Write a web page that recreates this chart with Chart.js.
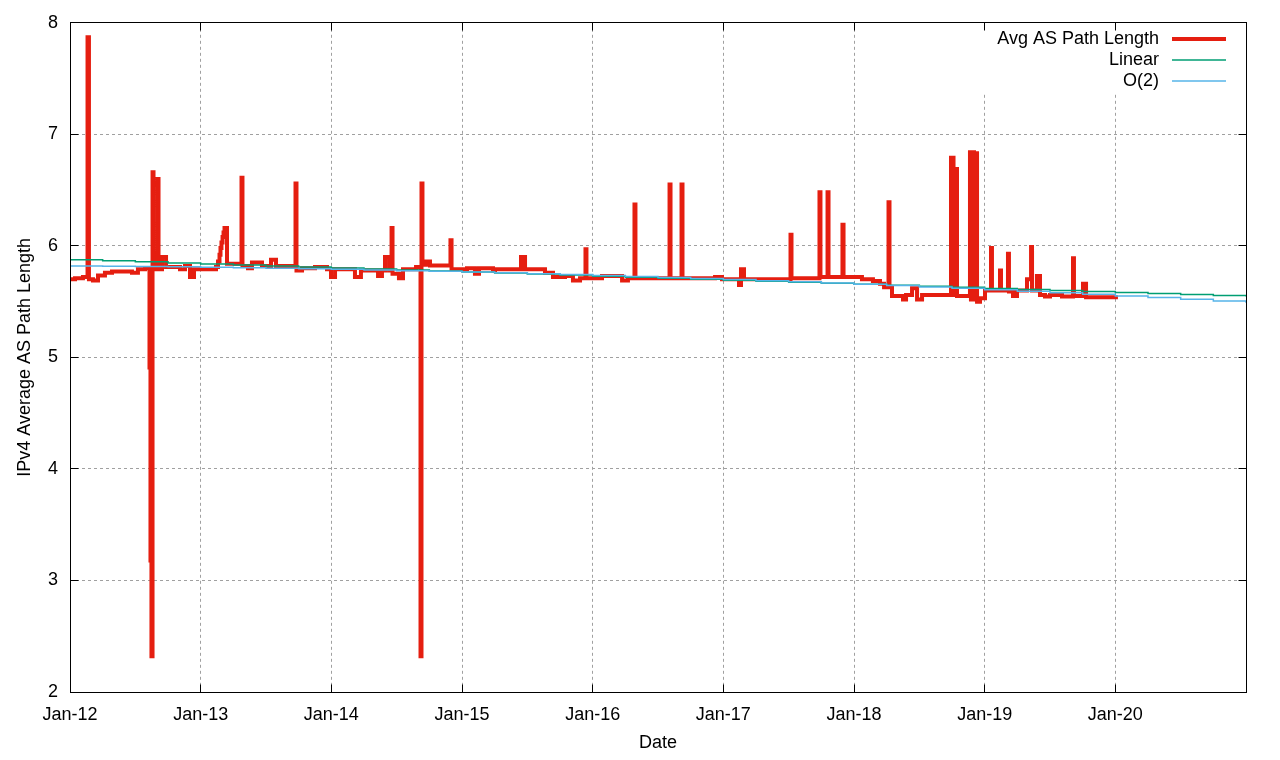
<!DOCTYPE html>
<html>
<head>
<meta charset="utf-8">
<title>IPv4 Average AS Path Length</title>
<script src="https://cdn.jsdelivr.net/npm/chart.js@4/dist/chart.umd.min.js"></script>
<style>
  html, body { margin: 0; padding: 0; background: #fff; }
  canvas { display: block; }
</style>
</head>
<body>
<canvas id="chart" width="1280" height="760"></canvas>
<script>
// x values are months since Jan 2012
const months = [
    0, 0.46, 1.19, 1.61, 1.74, 2.11, 2.57, 3.21, 3.86, 5.69,
    6.24, 6.89, 7.30, 7.39, 7.48, 7.58, 7.67, 8.04, 8.13, 8.45,
    8.82, 10.10, 10.56, 11.02, 11.39, 13.41, 13.59, 13.73, 13.82, 13.91,
    14.01, 14.10, 14.19, 14.42, 15.75, 15.84, 16.35, 16.71, 17.63, 18.46,
    18.92, 20.20, 20.71, 20.80, 21.31, 22.50, 23.60, 23.97, 24.34, 26.17,
    26.72, 28.29, 28.65, 28.93, 29.30, 29.53, 29.62, 30.21, 30.58, 31.78,
    32.19, 32.28, 32.37, 32.69, 33.06, 34.94, 35.04, 36.46, 37.19, 37.56,
    38.85, 39.03, 41.42, 41.79, 43.62, 44.36, 45.46, 46.19, 46.84, 47.34,
    47.43, 48.86, 50.70, 51.24, 51.84, 51.93, 55.06, 55.15, 56.16, 56.25,
    59.24, 59.88, 61.44, 61.62, 61.90, 66.17, 66.26, 68.83, 68.92, 69.57,
    69.66, 70.94, 71.04, 72.73, 73.74, 74.39, 74.76, 75.17, 75.26, 75.49,
    76.50, 76.78, 77.33, 77.79, 78.25,
    80.91, 81.00, 81.05, 81.14, 81.18, 81.28, 81.32, 81.46,
    82.65, 82.74, 82.79, 82.88, 82.93, 83.02, 83.06, 83.30,
    83.57, 84.03, 84.58, 84.67, 85.41, 85.50, 86.14, 86.23, 86.60,
    86.97, 87.89, 88.26, 88.35, 88.80, 89.08, 89.54, 90.00, 91.10, 92.11,
    92.20, 93.03, 93.31, 96.24
];
const avgLen = [
    5.70, 5.71, 5.72, 7.87, 5.70, 5.69, 5.735, 5.76, 5.77, 5.76,
    5.79, 5.80, 4.91, 3.18, 2.32, 6.66, 5.79, 6.60, 5.79, 5.90,
    5.81, 5.79, 5.82, 5.72, 5.79, 5.81, 5.86, 5.92, 5.98, 6.03,
    6.08, 6.12, 6.16, 5.84, 6.61, 5.82, 5.80, 5.85, 5.82, 5.875,
    5.82, 5.82, 6.56, 5.78, 5.80, 5.81, 5.79, 5.72, 5.79, 5.72,
    5.78, 5.73, 5.78, 5.90, 5.78, 6.16, 5.75, 5.71, 5.79, 5.81,
    2.32, 6.56, 5.83, 5.86, 5.825, 6.05, 5.79, 5.80, 5.75, 5.80,
    5.78, 5.79, 5.90, 5.79, 5.76, 5.72, 5.73, 5.69, 5.71, 5.97,
    5.71, 5.73, 5.69, 5.71, 6.37, 5.71, 6.55, 5.71, 6.55, 5.71,
    5.72, 5.70, 5.65, 5.79, 5.70, 6.10, 5.71, 6.48, 5.72, 6.48,
    5.72, 6.19, 5.72, 5.70, 5.685, 5.66, 5.63, 6.39, 5.63, 5.55,
    5.52, 5.56, 5.62, 5.52, 5.56,
    6.79, 5.56, 6.79, 5.56, 6.69, 5.56, 6.69, 5.55,
    6.84, 5.52, 6.84, 5.52, 6.84, 5.52, 6.83, 5.50,
    5.53, 5.60, 5.98, 5.60, 5.78, 5.60, 5.93, 5.59, 5.55,
    5.60, 5.70, 5.99, 5.60, 5.73, 5.56, 5.545, 5.56, 5.545, 5.89,
    5.55, 5.66, 5.54, 5.54
];

const fitMonths = [
    0, 3, 6, 9, 12, 15, 18, 21, 24, 27, 30, 33, 36,
    39, 42, 45, 48, 51, 54, 57, 60, 63, 66, 69, 72,
    75, 78, 81, 84, 87, 90, 93, 96, 99, 102, 105, 108
];
const linearFit = [
    5.875, 5.866, 5.857, 5.847, 5.838, 5.829, 5.820, 5.811, 5.802, 5.793, 5.783, 5.774, 5.765,
    5.756, 5.747, 5.738, 5.728, 5.719, 5.710, 5.701, 5.692, 5.683, 5.673, 5.664, 5.655,
    5.646, 5.637, 5.628, 5.618, 5.609, 5.600, 5.591, 5.582, 5.573, 5.563, 5.554, 5.545
];
const quadFit = [
    5.820, 5.818, 5.815, 5.812, 5.808, 5.804, 5.800, 5.795, 5.790, 5.784, 5.778, 5.772, 5.766,
    5.758, 5.751, 5.743, 5.735, 5.726, 5.717, 5.708, 5.698, 5.688, 5.678, 5.667, 5.656,
    5.644, 5.632, 5.619, 5.606, 5.593, 5.580, 5.566, 5.551, 5.537, 5.521, 5.506, 5.490
];

const yearLabels = ['Jan-12', 'Jan-13', 'Jan-14', 'Jan-15', 'Jan-16', 'Jan-17', 'Jan-18', 'Jan-19', 'Jan-20', ''];

const RED = '#e51e10';
const GREEN = '#009e73';
const BLUE = '#56b4e9';
const FONT = '"Liberation Sans", Arial, sans-serif';

const pairs = (xs, ys) => xs.map((x, i) => ({x: x, y: ys[i]}));
const crisp = p => Math.round(p - 0.5) + 0.5;

// gnuplot style frame, inward ticks and key box
const framePlugin = {
    id: 'frame',
    afterDatasetsDraw(chart) {
        const {ctx, chartArea: a, scales} = chart;
        ctx.save();

        // key
        ctx.fillStyle = '#fff';
        ctx.fillRect(976, a.top + 1, a.right - 977, 69);
        ctx.font = '18px ' + FONT;
        ctx.fillStyle = '#000';
        ctx.textAlign = 'right';
        ctx.textBaseline = 'middle';
        const keys = [
            ['Avg AS Path Length', RED, 4, 39],
            ['Linear', GREEN, 1.5, 60],
            ['O(2)', BLUE, 1.5, 81]
        ];
        keys.forEach(function (k) {
            ctx.fillText(k[0], 1159, k[3]);
            ctx.strokeStyle = k[1];
            ctx.lineWidth = k[2];
            ctx.beginPath();
            ctx.moveTo(1172, k[3]);
            ctx.lineTo(1226, k[3]);
            ctx.stroke();
        });

        // border
        const l = crisp(a.left), r = crisp(a.right), t = crisp(a.top), b = crisp(a.bottom);
        ctx.strokeStyle = '#000';
        ctx.lineWidth = 1;
        ctx.strokeRect(l, t, r - l, b - t);

        // ticks
        ctx.beginPath();
        scales.y.ticks.forEach(function (tk) {
            const py = crisp(scales.y.getPixelForValue(tk.value));
            ctx.moveTo(l, py);
            ctx.lineTo(l + 8, py);
            ctx.moveTo(r, py);
            ctx.lineTo(r - 8, py);
        });
        scales.x.ticks.forEach(function (tk) {
            const px = crisp(scales.x.getPixelForValue(tk.value));
            ctx.moveTo(px, t);
            ctx.lineTo(px, t + 8);
            ctx.moveTo(px, b);
            ctx.lineTo(px, b - 8);
        });
        ctx.stroke();
        ctx.restore();
    }
};

const ctx = document.getElementById('chart').getContext('2d');
const chart = new Chart(ctx, {
    type: 'line',
    data: {
        datasets: [
            {
                label: 'Avg AS Path Length',
                data: pairs(months, avgLen),
                borderColor: RED,
                borderWidth: 4,
                stepped: true,
                pointRadius: 0,
                borderJoinStyle: 'miter',
                borderCapStyle: 'butt',
                order: 3
            }, {
                label: 'Linear',
                data: pairs(fitMonths, linearFit),
                borderColor: GREEN,
                borderWidth: 1.5,
                stepped: true,
                pointRadius: 0,
                order: 2
            }, {
                label: 'O(2)',
                data: pairs(fitMonths, quadFit),
                borderColor: BLUE,
                borderWidth: 1.5,
                stepped: true,
                pointRadius: 0,
                order: 1
            }
        ]
    },
    options: {
        responsive: false,
        animation: false,
        devicePixelRatio: 1,
        layout: {
            padding: {top: 20, right: 34, bottom: 2, left: 10}
        },
        plugins: {
            legend: {display: false},
            tooltip: {enabled: false},
            title: {display: false}
        },
        scales: {
            x: {
                type: 'linear',
                min: 0,
                max: 108,
                afterFit: function (scale) { scale.height = 66; },
                grid: {color: '#a0a0a0', lineWidth: 1, drawTicks: false},
                border: {display: false, dash: [3, 3]},
                ticks: {
                    stepSize: 12,
                    autoSkip: false,
                    maxRotation: 0,
                    padding: 12,
                    color: '#000',
                    font: {family: FONT, size: 18},
                    callback: function (v) { return yearLabels[v / 12]; }
                },
                title: {
                    display: true,
                    text: 'Date',
                    color: '#000',
                    font: {family: FONT, size: 18},
                    padding: {top: 4, bottom: 4}
                }
            },
            y: {
                min: 2,
                max: 8,
                afterFit: function (scale) { scale.width = 60; },
                grid: {color: '#a0a0a0', lineWidth: 1, drawTicks: false},
                border: {display: false, dash: [3, 3]},
                ticks: {
                    stepSize: 1,
                    padding: 12,
                    color: '#000',
                    font: {family: FONT, size: 18}
                },
                title: {
                    display: true,
                    text: 'IPv4 Average AS Path Length',
                    color: '#000',
                    font: {family: FONT, size: 18},
                    padding: {top: 4, bottom: 4}
                }
            }
        }
    },
    plugins: [framePlugin]
});
</script>
</body>
</html>
